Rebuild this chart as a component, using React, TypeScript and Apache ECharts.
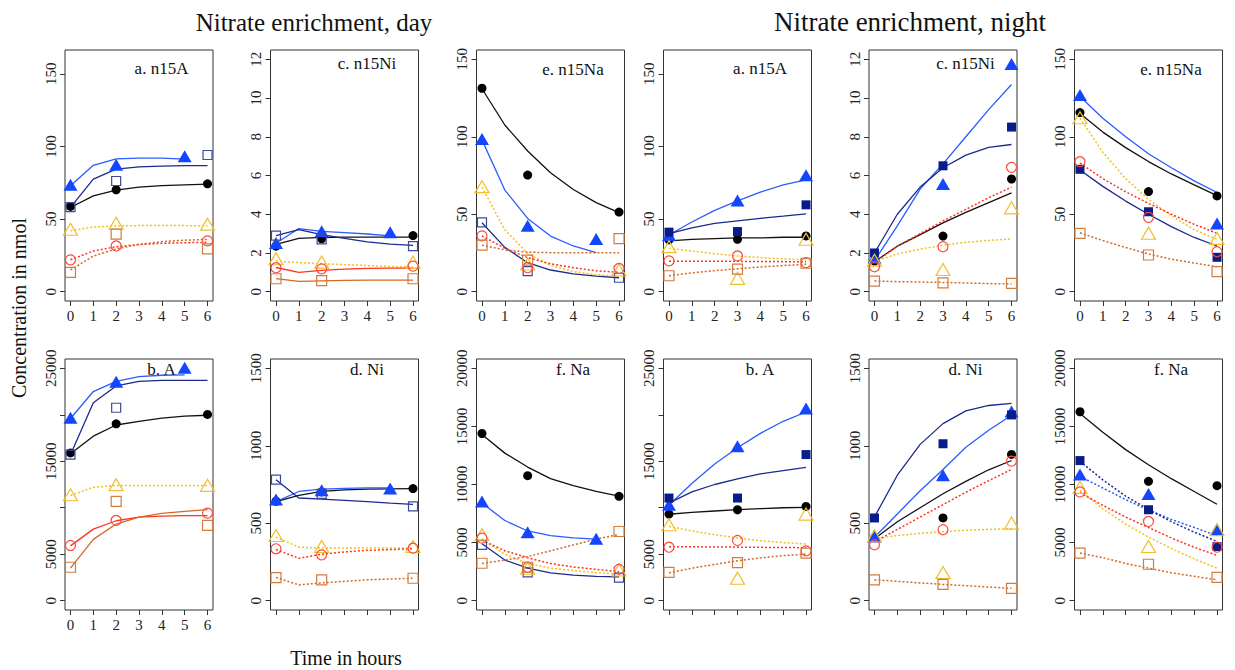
import React, { useEffect, useRef } from "react";
import * as echarts from "echarts";

// ---------- data ----------
const fitHours = [0, 1, 2, 3, 4, 5, 6];
const dayHours = [0, 2, 6];
const dayBlueHours = [0, 2, 5];
const nightHours = [0, 3, 6];
const xTicks = [0, 1, 2, 3, 4, 5, 6];

// species order: black, blue, navy, gold, red, orange
// a. n15A (day)
const dayN15APoints = [[58.7, 70.2, 74.3], [73.6, 87.4, 93.2], [58.2, 76.2, 94.1], [43, 47.2, 46.5], [21.9, 31.5, 35], [13.3, 39.6, 29.5]];
const dayN15AFits = [
  [58, 66, 70, 72, 73, 73.5, 74],
  [73, 87, 91.5, 92, 92, 91.3],
  [58, 77.5, 84.4, 86, 86.5, 86.8, 86.8],
  [42, 44.5, 45.3, 45.5, 45.5, 45.5, 45.4],
  [22, 28, 31, 32.5, 33.3, 33.7, 34],
  [15, 24.5, 29.5, 32.5, 34.5, 35.5, 36],
];
// c. n15Ni (day)
const dayN15NiPoints = [[2.35, 2.73, 2.9], [2.52, 3.12, 3.07], [2.9, 2.7, 2.35], [1.7, 1.53, 1.53], [1.24, 1.18, 1.32], [0.67, 0.57, 0.67]];
const dayN15NiFits = [
  [2.44, 2.75, 2.8, 2.82, 2.82, 2.82, 2.82],
  [2.5, 3.26, 3.12, 3.05, 2.98, 2.88],
  [2.9, 3.21, 2.95, 2.75, 2.57, 2.46, 2.39],
  [1.58, 1.5, 1.45, 1.4, 1.35, 1.3, 1.28],
  [1.25, 1.0, 1.1, 1.17, 1.2, 1.22, 1.22],
  [0.68, 0.53, 0.56, 0.58, 0.6, 0.6, 0.6],
];
// e. n15Na (day)
const dayN15NaPoints = [[131.3, 75.3, 51.4], [98.6, 42.6, 34], [44.8, 13.3, 9.0], [67.8, 17.9, 14], [36, 15.5, 15], [30.1, 20.4, 34.2]];
const dayN15NaFits = [
  [131, 107.6, 90.8, 76.8, 66, 57.5, 51],
  [98, 65.6, 47.3, 35.9, 29.5, 25.2],
  [44.5, 28.6, 18.7, 14, 11.5, 10, 9],
  [67.5, 40, 24.7, 17, 13, 11, 10],
  [36, 28, 22, 18, 15.5, 13.5, 12.5],
  [30, 27, 25.5, 25.2, 25.2, 25.2, 25.2],
];
// a. n15A (night)
const nightN15APoints = [[35.7, 36.1, 38.4], [39.1, 62.8, 80.1], [41, 41.4, 59.8], [31, 9.2, 36.1], [21.2, 24.6, 20], [11, 15.6, 19.6]];
const nightN15AFits = [
  [35, 36, 36.5, 37, 37, 37.5, 37.5],
  [39, 48, 56, 62.5, 68.5, 73.5, 77],
  [40, 44, 47, 48.8, 50.5, 52, 53.6],
  [30, 28, 26.2, 24.6, 23.5, 22.6, 21.9],
  [21, 21, 21, 20.9, 20.8, 20.7, 20.7],
  [11, 13, 14.5, 15.8, 17, 18, 18.9],
];
// c. n15Ni (night)
const nightN15NiPoints = [[1.58, 2.87, 5.82], [1.75, 5.56, 11.76], [2.0, 6.5, 8.5], [1.63, 1.15, 4.33], [1.29, 2.32, 6.42], [0.55, 0.46, 0.43]];
const nightN15NiFits = [
  [1.55, 2.35, 2.95, 3.55, 4.1, 4.6, 5.1],
  [1.6, 3.4, 5.3, 6.6, 8.0, 9.4, 10.7],
  [2.0, 4.0, 5.4, 6.4, 7.05, 7.45, 7.6],
  [1.55, 1.95, 2.2, 2.4, 2.55, 2.65, 2.72],
  [1.5, 2.35, 3.0, 3.65, 4.25, 4.85, 5.4],
  [0.55, 0.52, 0.5, 0.48, 0.45, 0.42, 0.4],
];
// e. n15Na (night)
const nightN15NaPoints = [[115.6, 64.6, 61.8], [127, null, 44.1], [79, 51.6, 22.2], [112.3, 37.7, 34.4], [83.9, 48, 25.8], [37.7, 23.7, 12.9]];
const nightN15NaFits = [
  [115, 103, 93, 84, 76, 69, 62],
  [126, 112, 100, 89, 80, 71.5, 64],
  [78.5, 68, 58.5, 50, 42, 35, 29.5],
  [112, 90, 73, 59.6, 49, 40, 33.8],
  [83, 73, 64.5, 57, 50, 43.5, 37.7],
  [38, 33, 28.5, 24.3, 21, 18.5, 16.1],
];
// b. A (day)
const dayAPoints = [[15899, 19029, 20036], [19676, 23560, 25071], [15719, 20755, null], [11403, 12482, 12410], [5935, 8633, 9424], [3597, 10683, 8093]];
const dayAFits = [
  [15800, 17700, 18900, 19300, 19650, 19850, 19950],
  [19600, 22500, 23600, 24100, 24250, 24300],
  [15700, 21300, 23100, 23600, 23700, 23700, 23700],
  [11300, 12200, 12400, 12400, 12400, 12400, 12400],
  [5900, 7700, 8600, 9000, 9100, 9150, 9150],
  [3500, 6600, 8250, 9000, 9400, 9600, 9800],
];
// d. Ni (day)
const dayNiPoints = [[642, 702, 724], [653, 713, 724], [782, 689, 609], [421, 350, 350], [335, 296, 339], [149, 134, 145]];
const dayNiFits = [
  [640, 680, 705, 715, 720, 722, 724],
  [640, 705, 720, 725, 728, 728],
  [780, 663, 655, 648, 640, 630, 622],
  [410, 346, 340, 340, 340, 340, 340],
  [330, 274, 300, 315, 325, 330, 335],
  [150, 102, 115, 125, 135, 140, 145],
];
// f. Na (day)
const dayNaPoints = [[14388, 10762, 8979], [8547, 5900, 5324], [4806, 2446, 1986], [5670, 2792, 2648], [5382, 2878, 2705], [3224, 2878, 5957]];
const dayNaFits = [
  [14300, 12700, 11500, 10500, 9900, 9400, 9000],
  [8400, 6900, 6000, 5600, 5400, 5300],
  [4900, 3500, 2800, 2400, 2200, 2100, 2050],
  [5300, 4000, 3200, 2800, 2600, 2400, 2300],
  [5200, 4300, 3700, 3200, 2900, 2700, 2500],
  [3200, 3500, 3800, 4300, 4800, 5300, 5700],
];
// b. A (night)
const nightAPoints = [[9316, 9784, 10144], [10323, 16618, 20683], [11043, 11043, 15719], [8165, 2410, 9316], [5755, 6475, 5360], [3057, 4101, 5108]];
const nightAFits = [
  [9300, 9500, 9650, 9800, 9900, 10000, 10050],
  [10300, 12600, 14700, 16450, 18000, 19300, 20300],
  [10500, 11700, 12500, 13100, 13650, 14000, 14350],
  [8000, 7500, 7100, 6750, 6450, 6250, 6100],
  [5800, 5800, 5780, 5760, 5740, 5720, 5700],
  [3000, 3500, 3900, 4300, 4600, 4850, 5000],
];
// d. Ni (night)
const nightNiPoints = [[408, 534, 944], [415, 810, 1221], [534, 1013, 1199], [419, 182, 501], [361, 458, 901], [134, 106, 80]];
const nightNiFits = [
  [400, 510, 600, 690, 770, 845, 905],
  [410, 560, 710, 847, 990, 1100, 1197],
  [540, 810, 1009, 1143, 1225, 1260, 1273],
  [400, 420, 435, 445, 455, 460, 465],
  [380, 460, 540, 620, 700, 775, 847],
  [135, 125, 115, 105, 97, 88, 80],
];
// f. Na (night)
const nightNaPoints = [[16261, 10274, 9900], [10850, 9181, 6159], [12059, 7828, 4662], [9756, 4662, 6101], [9354, 6821, 4605], [4087, 3137, 2015]];
const nightNaFits = [
  [16100, 14500, 13000, 11700, 10500, 9400, 8300],
  [10700, 9700, 8700, 7800, 7000, 6300, 5600],
  [12000, 10400, 9000, 7850, 6800, 5900, 5100],
  [9500, 7900, 6600, 5470, 4500, 3600, 2800],
  [9300, 8200, 7200, 6300, 5400, 4600, 3900],
  [4100, 3700, 3200, 2800, 2400, 2100, 1800],
];

const ticks160 = [0, 50, 100, 150];
const ticks12 = [0, 2, 4, 6, 8, 10, 12];
const ticks25000 = [0, 5000, 10000, 15000, 20000, 25000];
const labels25000 = [0, 5000, 15000, 25000];
const ticks1500 = [0, 500, 1000, 1500];
const ticks20000 = [0, 5000, 10000, 15000, 20000];

// ---------- styles ----------
const FONT = '"Liberation Serif", "Times New Roman", Times, serif';
const S = "solid";
const D = "dot";
const ltyStd = [S, S, S, D, D, D];
const ltyRedOrangeSolid = [S, S, S, D, S, S];
const ltyNaNight = [S, D, D, D, D, D];

const speciesStyle = [
  { line: "#111111", symbol: "circle", size: 9, fill: "#000000", stroke: "#000000" },
  { line: "#2a5cff", symbol: "triangle", size: [14, 12], fill: "#1446ff", stroke: "#1446ff" },
  { line: "#1b2a8c", symbol: "rect", size: 9, fill: "#0a1c8a", stroke: "#3b4aa0" },
  { line: "#f2c21a", symbol: "triangle", size: [14, 12], fill: null, stroke: "#f0c030" },
  { line: "#ff3322", symbol: "circle", size: 10, fill: null, stroke: "#ff4a3c" },
  { line: "#d06a22", symbol: "rect", size: 10, fill: null, stroke: "#cf7d40" },
];

const lefts = [65, 270.5, 476.5, 663.5, 869, 1074.5];
const PW = 148;
const PH = 251;
const TOP1 = 50;
const TOP2 = 359;

const panels = [
  { title: "a. n15A", col: 0, top: TOP1, ylim: [0, 160], yTicks: ticks160, yLabels: ticks160, pts: dayN15APoints, fits: dayN15AFits, lty: ltyStd, night: false, xLab: true, ty: 68 },
  { title: "c. n15Ni", col: 1, top: TOP1, ylim: [0, 12], yTicks: ticks12, yLabels: ticks12, pts: dayN15NiPoints, fits: dayN15NiFits, lty: ltyRedOrangeSolid, night: false, xLab: true, ty: 63.5 },
  { title: "e. n15Na", col: 2, top: TOP1, ylim: [0, 150], yTicks: ticks160, yLabels: ticks160, pts: dayN15NaPoints, fits: dayN15NaFits, lty: ltyStd, night: false, xLab: true, ty: 69 },
  { title: "a. n15A", col: 3, top: TOP1, ylim: [0, 160], yTicks: ticks160, yLabels: ticks160, pts: nightN15APoints, fits: nightN15AFits, lty: ltyStd, night: true, xLab: true, ty: 68 },
  { title: "c. n15Ni", col: 4, top: TOP1, ylim: [0, 12], yTicks: ticks12, yLabels: ticks12, pts: nightN15NiPoints, fits: nightN15NiFits, lty: ltyStd, night: true, xLab: true, ty: 63.5 },
  { title: "e. n15Na", col: 5, top: TOP1, ylim: [0, 150], yTicks: ticks160, yLabels: ticks160, pts: nightN15NaPoints, fits: nightN15NaFits, lty: ltyStd, night: true, xLab: true, ty: 69 },
  { title: "b. A", col: 0, top: TOP2, ylim: [0, 25000], yTicks: ticks25000, yLabels: labels25000, pts: dayAPoints, fits: dayAFits, lty: ltyRedOrangeSolid, night: false, xLab: true, ty: 369.5 },
  { title: "d. Ni", col: 1, top: TOP2, ylim: [0, 1500], yTicks: ticks1500, yLabels: ticks1500, pts: dayNiPoints, fits: dayNiFits, lty: ltyStd, night: false, xLab: false, ty: 369.5 },
  { title: "f. Na", col: 2, top: TOP2, ylim: [0, 20000], yTicks: ticks20000, yLabels: ticks20000, pts: dayNaPoints, fits: dayNaFits, lty: ltyStd, night: false, xLab: false, ty: 369.5 },
  { title: "b. A", col: 3, top: TOP2, ylim: [0, 25000], yTicks: ticks25000, yLabels: labels25000, pts: nightAPoints, fits: nightAFits, lty: ltyStd, night: true, xLab: false, ty: 369.5 },
  { title: "d. Ni", col: 4, top: TOP2, ylim: [0, 1500], yTicks: ticks1500, yLabels: ticks1500, pts: nightNiPoints, fits: nightNiFits, lty: ltyStd, night: true, xLab: false, ty: 369.5 },
  { title: "f. Na", col: 5, top: TOP2, ylim: [0, 20000], yTicks: ticks20000, yLabels: ticks20000, pts: nightNaPoints, fits: nightNaFits, lty: ltyNaNight, night: true, xLab: false, ty: 369.5 },
];

const plain = (v: number) => String(Math.round(v * 1000) / 1000);

function buildOption() {
  const grid: any[] = [];
  const xAxis: any[] = [];
  const yAxis: any[] = [];
  const series: any[] = [];
  const graphic: any[] = [];

  panels.forEach((p, i) => {
    const left = lefts[p.col];
    grid.push({
      left, top: p.top, width: PW, height: PH,
      show: true, borderColor: "#333", borderWidth: 1, backgroundColor: "transparent",
      containLabel: false, outerBoundsMode: "none",
    });
    xAxis.push({
      type: "value", gridIndex: i, min: -0.24, max: 6.24,
      splitLine: { show: false },
      axisLine: { show: false, onZero: false },
      axisTick: { show: true, length: 5, customValues: xTicks, lineStyle: { color: "#333" } },
      axisLabel: { show: p.xLab, customValues: xTicks, formatter: plain, fontSize: 15, fontFamily: FONT, color: "#222", margin: 7 },
    });
    const ext = (p.ylim[1] - p.ylim[0]) * 0.04;
    yAxis.push({
      type: "value", gridIndex: i, min: p.ylim[0] - ext, max: p.ylim[1] + ext,
      splitLine: { show: false },
      axisLine: { show: false, onZero: false },
      axisTick: { show: true, length: 5, customValues: p.yTicks, lineStyle: { color: "#333" } },
      axisLabel: { customValues: p.yLabels, formatter: plain, rotate: 90, fontSize: 15, fontFamily: FONT, color: "#222", margin: 7 },
    });

    p.fits.forEach((fit, s) => {
      const st = speciesStyle[s];
      series.push({
        type: "line", xAxisIndex: i, yAxisIndex: i, silent: true,
        data: fit.map((v, k) => [fitHours[k], v]),
        symbol: "none", showSymbol: false, z: 2,
        lineStyle: { color: st.line, width: p.lty[s] === D ? 1.5 : 1.3, type: p.lty[s] === D ? [2, 2] : "solid", opacity: 1 },
      });
    });

    p.pts.forEach((vals, s) => {
      const st = speciesStyle[s];
      const hrs = p.night ? nightHours : s === 1 ? dayBlueHours : dayHours;
      const data = vals
        .map((v, k) => (v == null ? null : [hrs[k], v]))
        .filter((d) => d != null);
      let fill: string | null = st.fill;
      if (s === 2 && !p.night) fill = null;
      series.push({
        type: "scatter", xAxisIndex: i, yAxisIndex: i, silent: true, clip: false,
        data, symbol: st.symbol, symbolSize: st.size, z: 3,
        itemStyle: fill
          ? { color: fill, borderColor: fill, borderWidth: 0, opacity: 1 }
          : { color: "rgba(0,0,0,0)", borderColor: st.stroke, borderWidth: 1.2, opacity: 1 },
      });
    });

    graphic.push({
      type: "text", x: left + 96.5, y: p.ty,
      style: { text: p.title, fill: "#111", font: `17px ${FONT}`, textAlign: "center", textVerticalAlign: "middle", align: "center", verticalAlign: "middle" },
    });
  });

  graphic.push(
    { type: "text", x: 314, y: 22, style: { text: "Nitrate enrichment, day", fill: "#111", font: `25px ${FONT}`, textAlign: "center", textVerticalAlign: "middle", align: "center", verticalAlign: "middle" } },
    { type: "text", x: 910, y: 22, style: { text: "Nitrate enrichment, night", fill: "#111", font: `27px ${FONT}`, textAlign: "center", textVerticalAlign: "middle", align: "center", verticalAlign: "middle" } },
    { type: "text", x: 19, y: 308, rotation: Math.PI / 2, style: { text: "Concentration in nmol", fill: "#111", font: `20px ${FONT}`, textAlign: "center", textVerticalAlign: "middle", align: "center", verticalAlign: "middle" } },
    { type: "text", x: 346, y: 658, style: { text: "Time in hours", fill: "#111", font: `20px ${FONT}`, textAlign: "center", textVerticalAlign: "middle", align: "center", verticalAlign: "middle" } }
  );

  return {
    animation: false,
    backgroundColor: "#ffffff",
    grid, xAxis, yAxis, series, graphic,
  };
}

export default function App() {
  const ref = useRef<HTMLDivElement>(null);
  useEffect(() => {
    document.body.style.margin = "0";
    if (!ref.current) return;
    const chart = echarts.init(ref.current, undefined, { renderer: "svg" });
    chart.setOption(buildOption() as any);
    return () => chart.dispose();
  }, []);
  return <div ref={ref} style={{ width: 1235, height: 670 }} />;
}
